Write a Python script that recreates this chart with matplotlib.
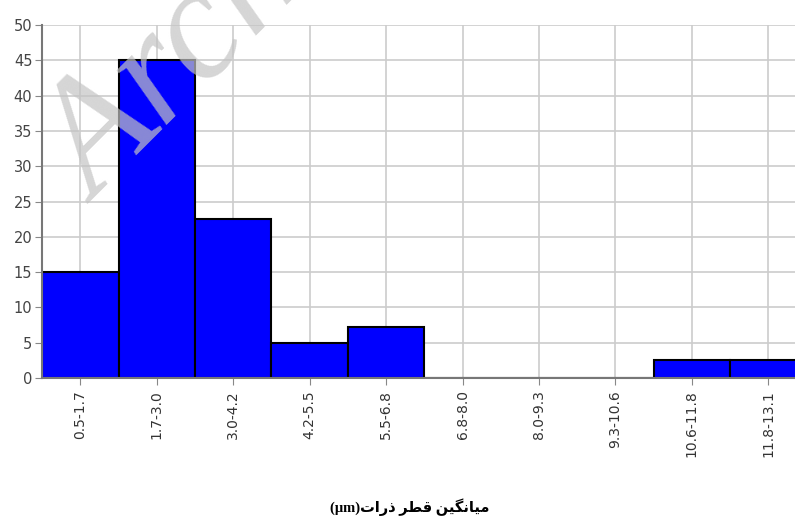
import matplotlib
matplotlib.use("Agg")
import matplotlib.pyplot as plt

# Histogram classes (particle diameter, um) and frequencies
bins = ["0.5-1.7", "1.7-3.0", "3.0-4.2", "4.2-5.5", "5.5-6.8",
        "6.8-8.0", "8.0-9.3", "9.3-10.6", "10.6-11.8", "11.8-13.1"]
counts = [15, 45, 22.5, 5, 7.2, 0, 0, 0, 2.5, 2.5]
yticks = [0, 5, 10, 15, 20, 25, 30, 35, 40, 45, 50]

# "میانگین قطر ذرات(µm)" written with shaped glyphs in visual order
xlabel = ("(\u03bcm)"
          "\uFE95\uFE8D\uFEAD\uFEAB "
          "\uFEAE\uFEC4\uFED7 "
          "\uFEE6\uFBFF\uFB95\uFEE7\uFE8E\uFBFF\uFEE3")

plt.rcParams["font.family"] = ["DejaVu Sans"]

fig = plt.figure(figsize=(7.95, 5.18), dpi=100)
ax = fig.add_axes([0.053, 0.2703, 0.947, 0.6814])

x = range(len(bins))
ax.bar(x, counts, width=1.0, color="#0000ff", edgecolor="black",
       linewidth=1.5, zorder=3)

ax.set_xlim(-0.5, 9.35)
ax.set_ylim(0, 50)
ax.set_yticks(yticks)
ax.set_xticks(list(x))
ax.set_xticklabels(bins, rotation=90, fontsize=10, color="#333333")
ax.tick_params(axis="y", labelsize=10.5, labelcolor="#444444", length=5,
               color="#888888", pad=2)
ax.tick_params(axis="x", length=5, color="#888888", pad=4)

ax.grid(True, color="#cccccc", linewidth=1.2, zorder=0)
ax.set_axisbelow(True)
for s in ["top", "right"]:
    ax.spines[s].set_visible(False)
for s in ["left", "bottom"]:
    ax.spines[s].set_color("#777777")
    ax.spines[s].set_linewidth(1.5)
    ax.spines[s].set_zorder(4)

fig.text(0.516, 1 - 507 / 518, xlabel, ha="center", va="center",
         fontsize=10.5, fontweight="bold",
         family=["Liberation Serif", "DejaVu Sans"])

# watermark
fig.text(0.02, 0.56, "Archive of SID", rotation=45, fontsize=115,
         family="Liberation Serif", style="italic",
         color="#c4c4c4", alpha=0.7, ha="left", va="bottom", zorder=10)

fig.savefig("out.png", dpi=100)
